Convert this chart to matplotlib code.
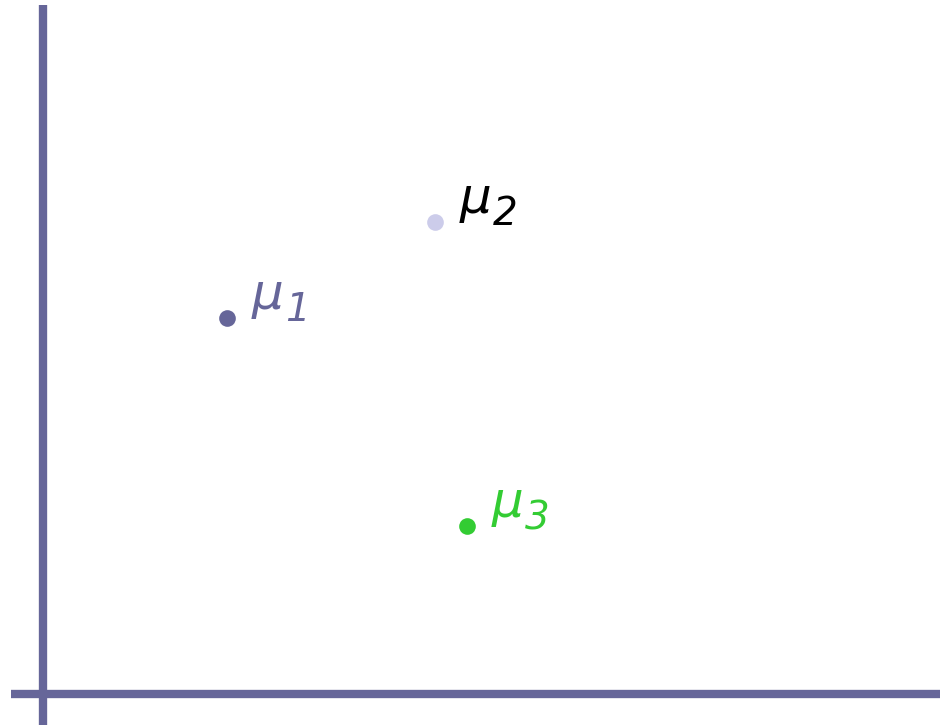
import matplotlib
matplotlib.use("Agg")
import matplotlib.pyplot as plt

# cluster means, in data units with the origin at the axis crossing
names = ["1", "2", "3"]
mu_x = [184, 392, 424]
mu_y = [376, 472, 168]
dot_colors = ["#666699", "#ccccea", "#33cc33"]
text_colors = ["#666699", "#000000", "#33cc33"]

fig = plt.figure(figsize=(9.41, 7.25), dpi=100)
ax = fig.add_axes([0, 0, 1, 1])
ax.set_xlim(-43, 898)
ax.set_ylim(-31, 694)
ax.axis("off")

# thick axis lines
axis_col = "#666699"
ax.plot([0, 0], [-31, 689], color=axis_col, lw=6, solid_capstyle="butt")
ax.plot([-32, 897], [0, 0], color=axis_col, lw=6, solid_capstyle="butt")

for x, y, n, dc, tc in zip(mu_x, mu_y, names, dot_colors, text_colors):
    ax.plot(x, y, "o", color=dc, ms=12, mec="none")
    # mu and its subscript as two italic texts
    ax.annotate("\u03bc", (x, y), xytext=(18, 6.5), textcoords="offset points",
                ha="left", va="baseline", fontsize=36, fontstyle="italic", color=tc)
    ax.annotate(n, (x, y), xytext=(42, -2.5), textcoords="offset points",
                ha="left", va="baseline", fontsize=28, fontstyle="italic", color=tc)

fig.savefig("out.png", dpi=100)
